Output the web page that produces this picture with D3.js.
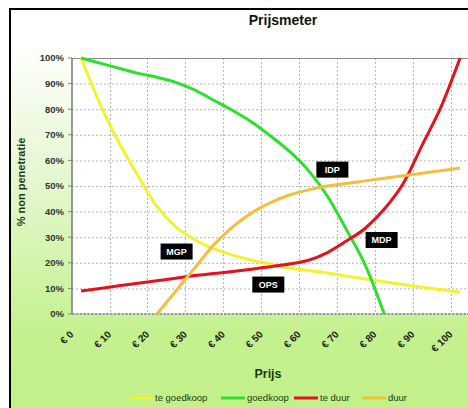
<!DOCTYPE html>
<html>
<head>
<meta charset="utf-8">
<script src="https://cdn.jsdelivr.net/npm/d3@7"></script>
<style>
  html, body { margin: 0; padding: 0; background: #fff; }
  svg { display: block; font-family: "Liberation Sans", Arial, sans-serif; }
</style>
</head>
<body>
<svg id="chart" width="468" height="408"></svg>
<script>
// Price points (euro) and share of respondents per question
const prices      = [0, 5, 10, 15, 20, 25, 30, 35, 40, 45, 50, 55, 60, 65, 70, 75, 80, 85, 90, 95, 100];
const teGoedkoop  = [1.00, 0.82, 0.67, 0.54, 0.42, 0.34, 0.29, 0.255, 0.23, 0.21, 0.195, 0.18, 0.17, 0.16, 0.148, 0.137, 0.126, 0.115, 0.105, 0.095, 0.086];
const goedkoop    = [1.00, 0.98, 0.96, 0.94, 0.925, 0.905, 0.875, 0.835, 0.795, 0.75, 0.695, 0.635, 0.56, 0.46, 0.33, 0.19, 0.00, null, null, null, null];
const teDuur      = [0.09, 0.10, 0.11, 0.12, 0.13, 0.14, 0.15, 0.158, 0.166, 0.175, 0.185, 0.195, 0.21, 0.24, 0.285, 0.335, 0.41, 0.51, 0.66, 0.81, 1.00];
const duur        = [null, null, null, null, 0.00, 0.09, 0.18, 0.27, 0.34, 0.395, 0.435, 0.465, 0.485, 0.50, 0.51, 0.52, 0.53, 0.54, 0.55, 0.56, 0.57];

const seriesNames  = ["te goedkoop", "goedkoop", "te duur", "duur"];
const seriesColors = ["#f4f22c", "#2ee02e", "#e8101c", "#f4bf3e"];
const seriesValues = [teGoedkoop, goedkoop, teDuur, duur];

// Axis ticks
const xTickValues = [0, 10, 20, 30, 40, 50, 60, 70, 80, 90, 100];
const xTickLabels = ["€ 0", "€ 10", "€ 20", "€ 30", "€ 40", "€ 50", "€ 60", "€ 70", "€ 80", "€ 90", "€ 100"];
const xGridValues = [7.5, 17.5, 27.5, 37.5, 47.5, 57.5, 67.5, 77.5, 87.5, 97.5];
const yTickValues = [0, 0.1, 0.2, 0.3, 0.4, 0.5, 0.6, 0.7, 0.8, 0.9, 1.0];

// Price-sensitivity annotations: label and where its tag sits (price, share)
const pointLabels = ["IDP", "MGP", "MDP", "OPS"];
const labelPrices = [66.3, 25.2, 79.3, 49.4];
const labelShares = [0.564, 0.244, 0.289, 0.115];

const svg = d3.select("#chart");
const W = 468, H = 408;

// Background gradient
const defs = svg.append("defs");
const grad = defs.append("linearGradient").attr("id", "bg").attr("x1", 0).attr("y1", 0).attr("x2", 0).attr("y2", 1);
grad.append("stop").attr("offset", "0.08").attr("stop-color", "#ffffff");
grad.append("stop").attr("offset", "0.42").attr("stop-color", "#e4f7cf");
grad.append("stop").attr("offset", "0.8").attr("stop-color", "#c4f18e");
grad.append("stop").attr("offset", "1").attr("stop-color", "#c2f08a");

svg.append("rect").attr("x", 0).attr("y", 0).attr("width", W).attr("height", H).attr("fill", "#fff");
svg.append("rect").attr("x", 10).attr("y", 9).attr("width", W).attr("height", H)
  .attr("fill", "url(#bg)").attr("stroke", "#000").attr("stroke-width", 2);

const plot = { left: 72, top: 58, right: 470, bottom: 314 };
const x = d3.scaleLinear().domain([-2.4, 101.3]).range([72, 465]);
const y = d3.scaleLinear().domain([0, 1]).range([plot.bottom, plot.top]);

// Plot area
svg.append("rect").attr("x", plot.left).attr("y", plot.top)
  .attr("width", plot.right - plot.left).attr("height", plot.bottom - plot.top)
  .attr("fill", "#ffffff");

// Gridlines
const grid = svg.append("g").attr("stroke", "#b4b4b4").attr("stroke-width", 1).attr("stroke-dasharray", "2,2");
grid.selectAll("line.h").data(yTickValues.filter(v => v > 0 && v < 1)).join("line")
  .attr("x1", plot.left).attr("x2", plot.right)
  .attr("y1", d => y(d) + 0.5).attr("y2", d => y(d) + 0.5);
grid.selectAll("line.v").data(xGridValues).join("line")
  .attr("x1", d => Math.round(x(d)) + 0.5).attr("x2", d => Math.round(x(d)) + 0.5)
  .attr("y1", plot.top).attr("y2", plot.bottom);

// Top border
svg.append("line").attr("x1", plot.left).attr("x2", plot.right)
  .attr("y1", plot.top + 0.5).attr("y2", plot.top + 0.5).attr("stroke", "#8a8a8a").attr("stroke-width", 1.2);

// Y axis
svg.append("line").attr("x1", plot.left).attr("x2", plot.left)
  .attr("y1", plot.top).attr("y2", plot.bottom).attr("stroke", "#808080").attr("stroke-width", 1.6);
const yAxis = svg.append("g");
yAxis.selectAll("line").data(yTickValues).join("line")
  .attr("x1", plot.left - 4).attr("x2", plot.left)
  .attr("y1", d => y(d)).attr("y2", d => y(d))
  .attr("stroke", "#808080");
yAxis.selectAll("text").data(yTickValues).join("text")
  .attr("x", plot.left - 8).attr("y", d => y(d)).attr("dy", "0.35em")
  .attr("text-anchor", "end").attr("font-size", 9.5).attr("font-weight", "bold").attr("fill", "#333")
  .text(d => d3.format(".0%")(d));

// X axis (category ticks give it a dashed look)
svg.append("line").attr("x1", plot.left).attr("x2", plot.right)
  .attr("y1", plot.bottom).attr("y2", plot.bottom)
  .attr("stroke", "#9a9a9a").attr("stroke-width", 2.2).attr("stroke-dasharray", "2.6,1.2");

const xAxis = svg.append("g");
xAxis.selectAll("text").data(xTickValues).join("text")
  .attr("transform", (d) => `translate(${x(d) - 7},${plot.bottom + 21}) rotate(-45)`)
  .attr("text-anchor", "end").attr("font-size", 10).attr("font-weight", "bold").attr("fill", "#222")
  .text((d, i) => xTickLabels[i]);

// Series lines
const line = d3.line()
  .defined(d => d[1] !== null)
  .x(d => x(d[0]))
  .y(d => y(d[1]))
  .curve(d3.curveMonotoneX);

seriesValues.forEach((vals, i) => {
  svg.append("path")
    .datum(prices.map((p, j) => [p, vals[j]]))
    .attr("fill", "none")
    .attr("stroke", seriesColors[i])
    .attr("stroke-width", 3)
    .attr("stroke-linejoin", "round")
    .attr("d", line);
});

// Annotation tags
const labels = svg.append("g");
pointLabels.forEach((lab, i) => {
  const g = labels.append("g")
    .attr("transform", `translate(${x(labelPrices[i])},${y(labelShares[i])})`);
  g.append("rect").attr("x", -16).attr("y", -8).attr("width", 32).attr("height", 16).attr("fill", "#000");
  g.append("text").attr("text-anchor", "middle").attr("dy", "0.35em")
    .attr("font-size", 9).attr("font-weight", "bold").attr("fill", "#fff").text(lab);
});

// Title and axis titles
svg.append("text").attr("x", 283).attr("y", 25).attr("text-anchor", "middle")
  .attr("font-size", 14).attr("font-weight", "bold").attr("fill", "#111").text("Prijsmeter");
svg.append("text").attr("x", 268).attr("y", 378).attr("text-anchor", "middle")
  .attr("font-size", 12.5).attr("font-weight", "bold").attr("fill", "#1d3a10").text("Prijs");
svg.append("text").attr("transform", `translate(25,182) rotate(-90)`).attr("text-anchor", "middle")
  .attr("font-size", 11).attr("font-weight", "bold").attr("fill", "#1d3a10").text("% non penetratie");

// Legend
const legendTextX = [155, 247, 320, 388];
const legend = svg.append("g");
seriesNames.forEach((name, i) => {
  const tx = legendTextX[i];
  legend.append("line").attr("x1", tx - 26).attr("x2", tx - 2).attr("y1", 398).attr("y2", 398)
    .attr("stroke", seriesColors[i]).attr("stroke-width", 3);
  legend.append("text").attr("x", tx).attr("y", 398).attr("dy", "0.35em")
    .attr("font-size", 9.5).attr("fill", "#1d3a10").text(name);
});
</script>
</body>
</html>
